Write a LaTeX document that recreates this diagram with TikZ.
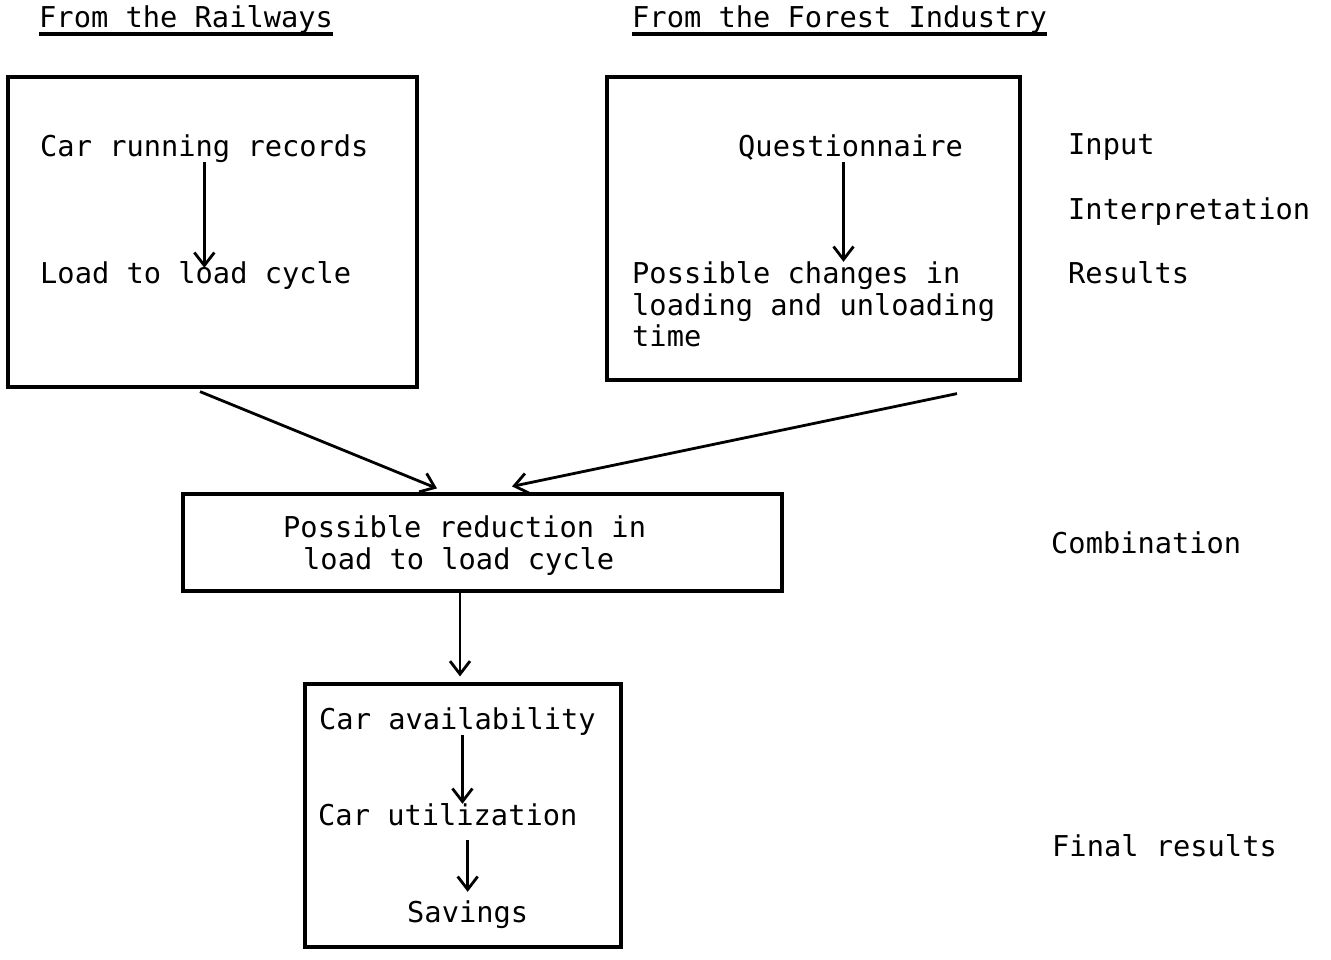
\documentclass[tikz,border=0pt]{standalone}
\usepackage{fontspec}
\setmonofont{DejaVu Sans Mono}
\usetikzlibrary{arrows.meta,calc}
\tikzset{
  txt/.style={font=\ttfamily\fontsize{28.7}{31.5}\selectfont, inner sep=0pt, anchor=base west, text height=21pt, text depth=6pt},
  box/.style={draw, line width=3.2pt, inner sep=0pt},
  arr/.style={line width=2.8pt, -{Straight Barb[length=13pt,width=20pt]}},
  uline/.style={line width=3.2pt}
}
\begin{document}
\begin{tikzpicture}[x=1pt,y=-1pt]
\useasboundingbox (0,0) rectangle (1331,959);
% headers
\node[txt] (rw) at (39,27) {From the Railways};
\node[txt] (fi) at (632,27) {From the Forest Industry};
\draw[uline] ($(rw.base west)+(0,7)$) -- ($(rw.base east)+(0,7)$);
\draw[uline] ($(fi.base west)+(0,7)$) -- ($(fi.base east)+(0,7)$);
% boxes
\node[box, minimum width=409pt, minimum height=310pt] (b1) at (212.5,232) {};
\node[box, minimum width=413pt, minimum height=303pt] (b2) at (813.5,228.5) {};
\node[box, minimum width=599pt, minimum height=97pt] (b3) at (482.5,542.5) {};
\node[box, minimum width=316pt, minimum height=263pt] (b4) at (463,815.5) {};
% box 1 texts
\node[txt] (crr) at (40,156) {Car running records};
\node[txt] (llc) at (40,283) {Load to load cycle};
% box 2 texts
\node[txt] (q) at (738,156) {Questionnaire};
\node[txt] (pc1) at (632,283) {Possible changes in};
\node[txt] (pc2) at (632,315) {loading and unloading};
\node[txt] (pc3) at (632,346) {time};
% box 3 texts
\node[txt] (r1) at (283,537) {Possible reduction in};
\node[txt] (r2) at (303,569) {load to load cycle};
% box 4 texts
\node[txt] (ca) at (319,729) {Car availability};
\node[txt] (cu) at (318,825) {Car utilization};
\node[txt] (sv) at (407,922) {Savings};
% right labels
\node[txt] (in) at (1068,154) {Input};
\node[txt] (ip) at (1068,219) {Interpretation};
\node[txt] (rs) at (1068,283) {Results};
\node[txt] (cb) at (1051,553) {Combination};
\node[txt] (fr) at (1052,856) {Final results};
% arrows
\draw[arr, shorten >=-6pt] (crr.south) -- (crr.south |- llc.north);
\draw[arr] ($(q.south)+(-7,0)$) -- ($(q.south |- pc1.north)+(-7,0)$);
\draw[arr] ($(b1.south)+(-12.5,3)$) -- ($(b3.north)+(-45.5,-4)$);
\draw[arr] ($(b2.south)+(143.5,12)$) -- ($(b3.north)+(29.5,-6)$);
\draw[arr] ($(b3.south)+(-22.5,0)$) -- ($(b4.north)+(-3,-6)$);
\draw[arr] ($(ca.south)+(5,0)$) -- ($(ca.south |- cu.north)+(5,0)$);
\draw[arr, shorten <=9pt, shorten >=9pt] (sv.north |- cu.south) -- (sv.north);
\end{tikzpicture}
\end{document}
